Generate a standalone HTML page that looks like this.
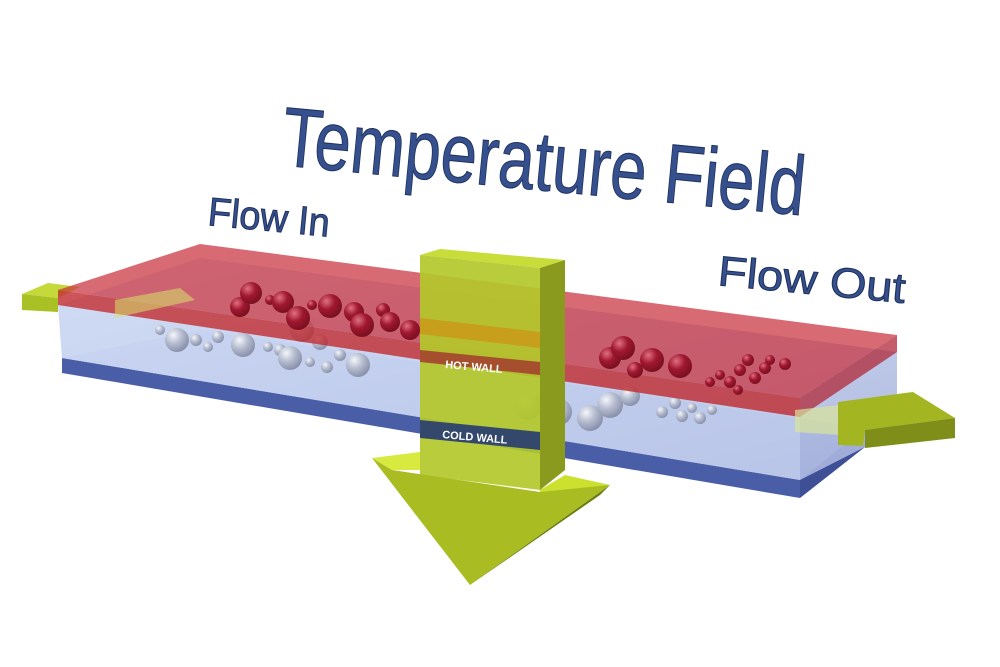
<!DOCTYPE html>
<html><head><meta charset="utf-8"><style>html,body{margin:0;padding:0;background:#fff;}svg{display:block}</style></head>
<body>
<svg width="1000" height="667" viewBox="0 0 1000 667" xmlns="http://www.w3.org/2000/svg">
<defs>
<radialGradient id="rb" cx="35%" cy="30%" r="70%"><stop offset="0" stop-color="#e07080"/><stop offset="0.5" stop-color="#a01830"/><stop offset="1" stop-color="#7a1020"/></radialGradient>
<radialGradient id="gb" cx="35%" cy="30%" r="70%"><stop offset="0" stop-color="#f4f6fb"/><stop offset="0.5" stop-color="#b6bdd0"/><stop offset="1" stop-color="#8a92ac"/></radialGradient>
<linearGradient id="glass" x1="0" y1="0" x2="1" y2="1"><stop offset="0" stop-color="#dce8fb"/><stop offset="1" stop-color="#a6b2dc"/></linearGradient>
</defs>
<g font-family="'Liberation Sans', sans-serif" fill="#35508c" stroke="#1e2f5c" stroke-width="1">
<text x="280" y="165" font-size="84" textLength="525" lengthAdjust="spacingAndGlyphs" transform="rotate(5.5 280 165)">Temperature Field</text>
<text x="207" y="225" font-size="40" textLength="122" lengthAdjust="spacingAndGlyphs" transform="rotate(5.5 207 225)">Flow In</text>
<text x="717" y="285" font-size="42" textLength="188" lengthAdjust="spacingAndGlyphs" transform="rotate(5.5 717 285)">Flow Out</text>
</g>
<!-- flow in arrow outside -->
<polygon points="22,294 48,283 80,287 58,298" fill="#c5d93a"/>
<polygon points="22,294 58,298 58,312 22,310" fill="#a9c124"/>
<!-- blue bottom slab -->
<polygon points="62,358 200,330 865,428 800,480" fill="#8a9ad0"/>
<polygon points="62,358 800,480 800,498 62,373" fill="#4a5ea8"/>
<polygon points="800,480 865,428 865,447 800,498" fill="#3e4f96"/>
<!-- glass -->
<polygon points="58,305 200,258 897,352 897,440 865,447 800,480 62,358" fill="url(#glass)" opacity="0.9"/>
<polygon points="58,305 800,417 800,480 62,358" fill="#c6d2f0" opacity="0.6"/>
<!-- grey bubbles -->
<g fill="url(#gb)">
<circle cx="160" cy="330" r="5"/><circle cx="177" cy="340" r="12"/><circle cx="196" cy="340" r="6"/><circle cx="208" cy="347" r="5"/><circle cx="218" cy="337" r="6"/>
<circle cx="243" cy="345" r="12"/><circle cx="268" cy="347" r="5"/><circle cx="280" cy="350" r="6"/><circle cx="290" cy="358" r="12"/><circle cx="310" cy="362" r="5"/>
<circle cx="320" cy="342" r="8"/><circle cx="327" cy="367" r="6"/><circle cx="340" cy="355" r="6"/><circle cx="358" cy="365" r="12"/><circle cx="302" cy="330" r="12"/>
<circle cx="528" cy="407" r="13"/><circle cx="548" cy="392" r="12"/><circle cx="559" cy="412" r="13"/><circle cx="590" cy="418" r="13"/><circle cx="610" cy="405" r="13"/><circle cx="630" cy="396" r="10"/>
<circle cx="662" cy="412" r="6"/><circle cx="675" cy="403" r="6"/><circle cx="682" cy="416" r="6"/><circle cx="692" cy="408" r="5"/><circle cx="700" cy="418" r="6"/><circle cx="712" cy="410" r="5"/>
</g>
<!-- red top slab -->
<polygon points="58,290 200,244 897,335 800,398" fill="#c8303c" opacity="0.72"/>
<polygon points="58,290 800,398 800,417 58,305" fill="#c02a30" opacity="0.8"/>
<polygon points="800,398 897,335 897,352 800,417" fill="#b02838" opacity="0.75"/>
<!-- red bubbles -->
<g fill="url(#rb)">
<circle cx="240" cy="307" r="10"/><circle cx="251" cy="293" r="11"/><circle cx="270" cy="300" r="5"/><circle cx="283" cy="302" r="11"/><circle cx="298" cy="318" r="12"/><circle cx="312" cy="305" r="5"/>
<circle cx="330" cy="306" r="12"/><circle cx="354" cy="312" r="10"/><circle cx="362" cy="325" r="12"/><circle cx="383" cy="310" r="7"/><circle cx="390" cy="322" r="10"/><circle cx="410" cy="330" r="10"/>
<circle cx="610" cy="358" r="11"/><circle cx="623" cy="348" r="12"/><circle cx="652" cy="360" r="12"/><circle cx="680" cy="366" r="12"/><circle cx="635" cy="370" r="8"/>
<circle cx="710" cy="382" r="5"/><circle cx="720" cy="375" r="5"/><circle cx="730" cy="382" r="6"/><circle cx="740" cy="370" r="6"/><circle cx="748" cy="360" r="6"/><circle cx="755" cy="378" r="6"/><circle cx="765" cy="368" r="6"/><circle cx="770" cy="360" r="5"/><circle cx="785" cy="364" r="6"/><circle cx="738" cy="390" r="5"/>
</g>
<!-- flow in head inside -->
<polygon points="115,300 180,288 195,300 115,318" fill="#d6e36a" opacity="0.55"/>
<!-- vertical arrow -->
<polygon points="420,255 440,249 565,260 540,268" fill="#c8dc3a"/>
<polygon points="540,268 565,260 565,470 540,490" fill="#8a9a1e"/>
<polygon points="420,255 540,268 540,490 420,475" fill="#b3c82a" opacity="0.92"/>
<polygon points="420,318 540,332 540,348 420,334" fill="#d38a10" opacity="0.6"/>
<polygon points="372,458 420,452 420,470 392,470" fill="#d8ea40"/>
<polygon points="540,490 565,475 610,485 540,495" fill="#cce030"/>
<polygon points="372,458 392,470 540,492 610,485 470,585" fill="#a9bd22"/>
<polygon points="470,585 610,485 600,495" fill="#6c7a10"/>
<!-- labels -->
<polygon points="420,350 540,362 540,375 420,362" fill="#a02030" opacity="0.7"/>
<text x="445" y="368" font-family="'Liberation Sans',sans-serif" font-size="11" font-weight="bold" fill="#fff" transform="rotate(5 445 368)">HOT WALL</text>
<polygon points="420,420 540,432 540,450 420,438" fill="#34486c"/>
<text x="442" y="438" font-family="'Liberation Sans',sans-serif" font-size="11" font-weight="bold" fill="#fff" transform="rotate(5 442 438)">COLD WALL</text>
<!-- flow out arrow -->
<polygon points="795,410 840,405 840,435 795,432" fill="#d8e49a" opacity="0.7"/>
<polygon points="838,402 905,393 913,392 955,418 865,430 863,446 838,445" fill="#a3b622"/>
<polygon points="865,430 955,418 955,438 865,448" fill="#7e8e18"/>
</svg>
</body></html>
